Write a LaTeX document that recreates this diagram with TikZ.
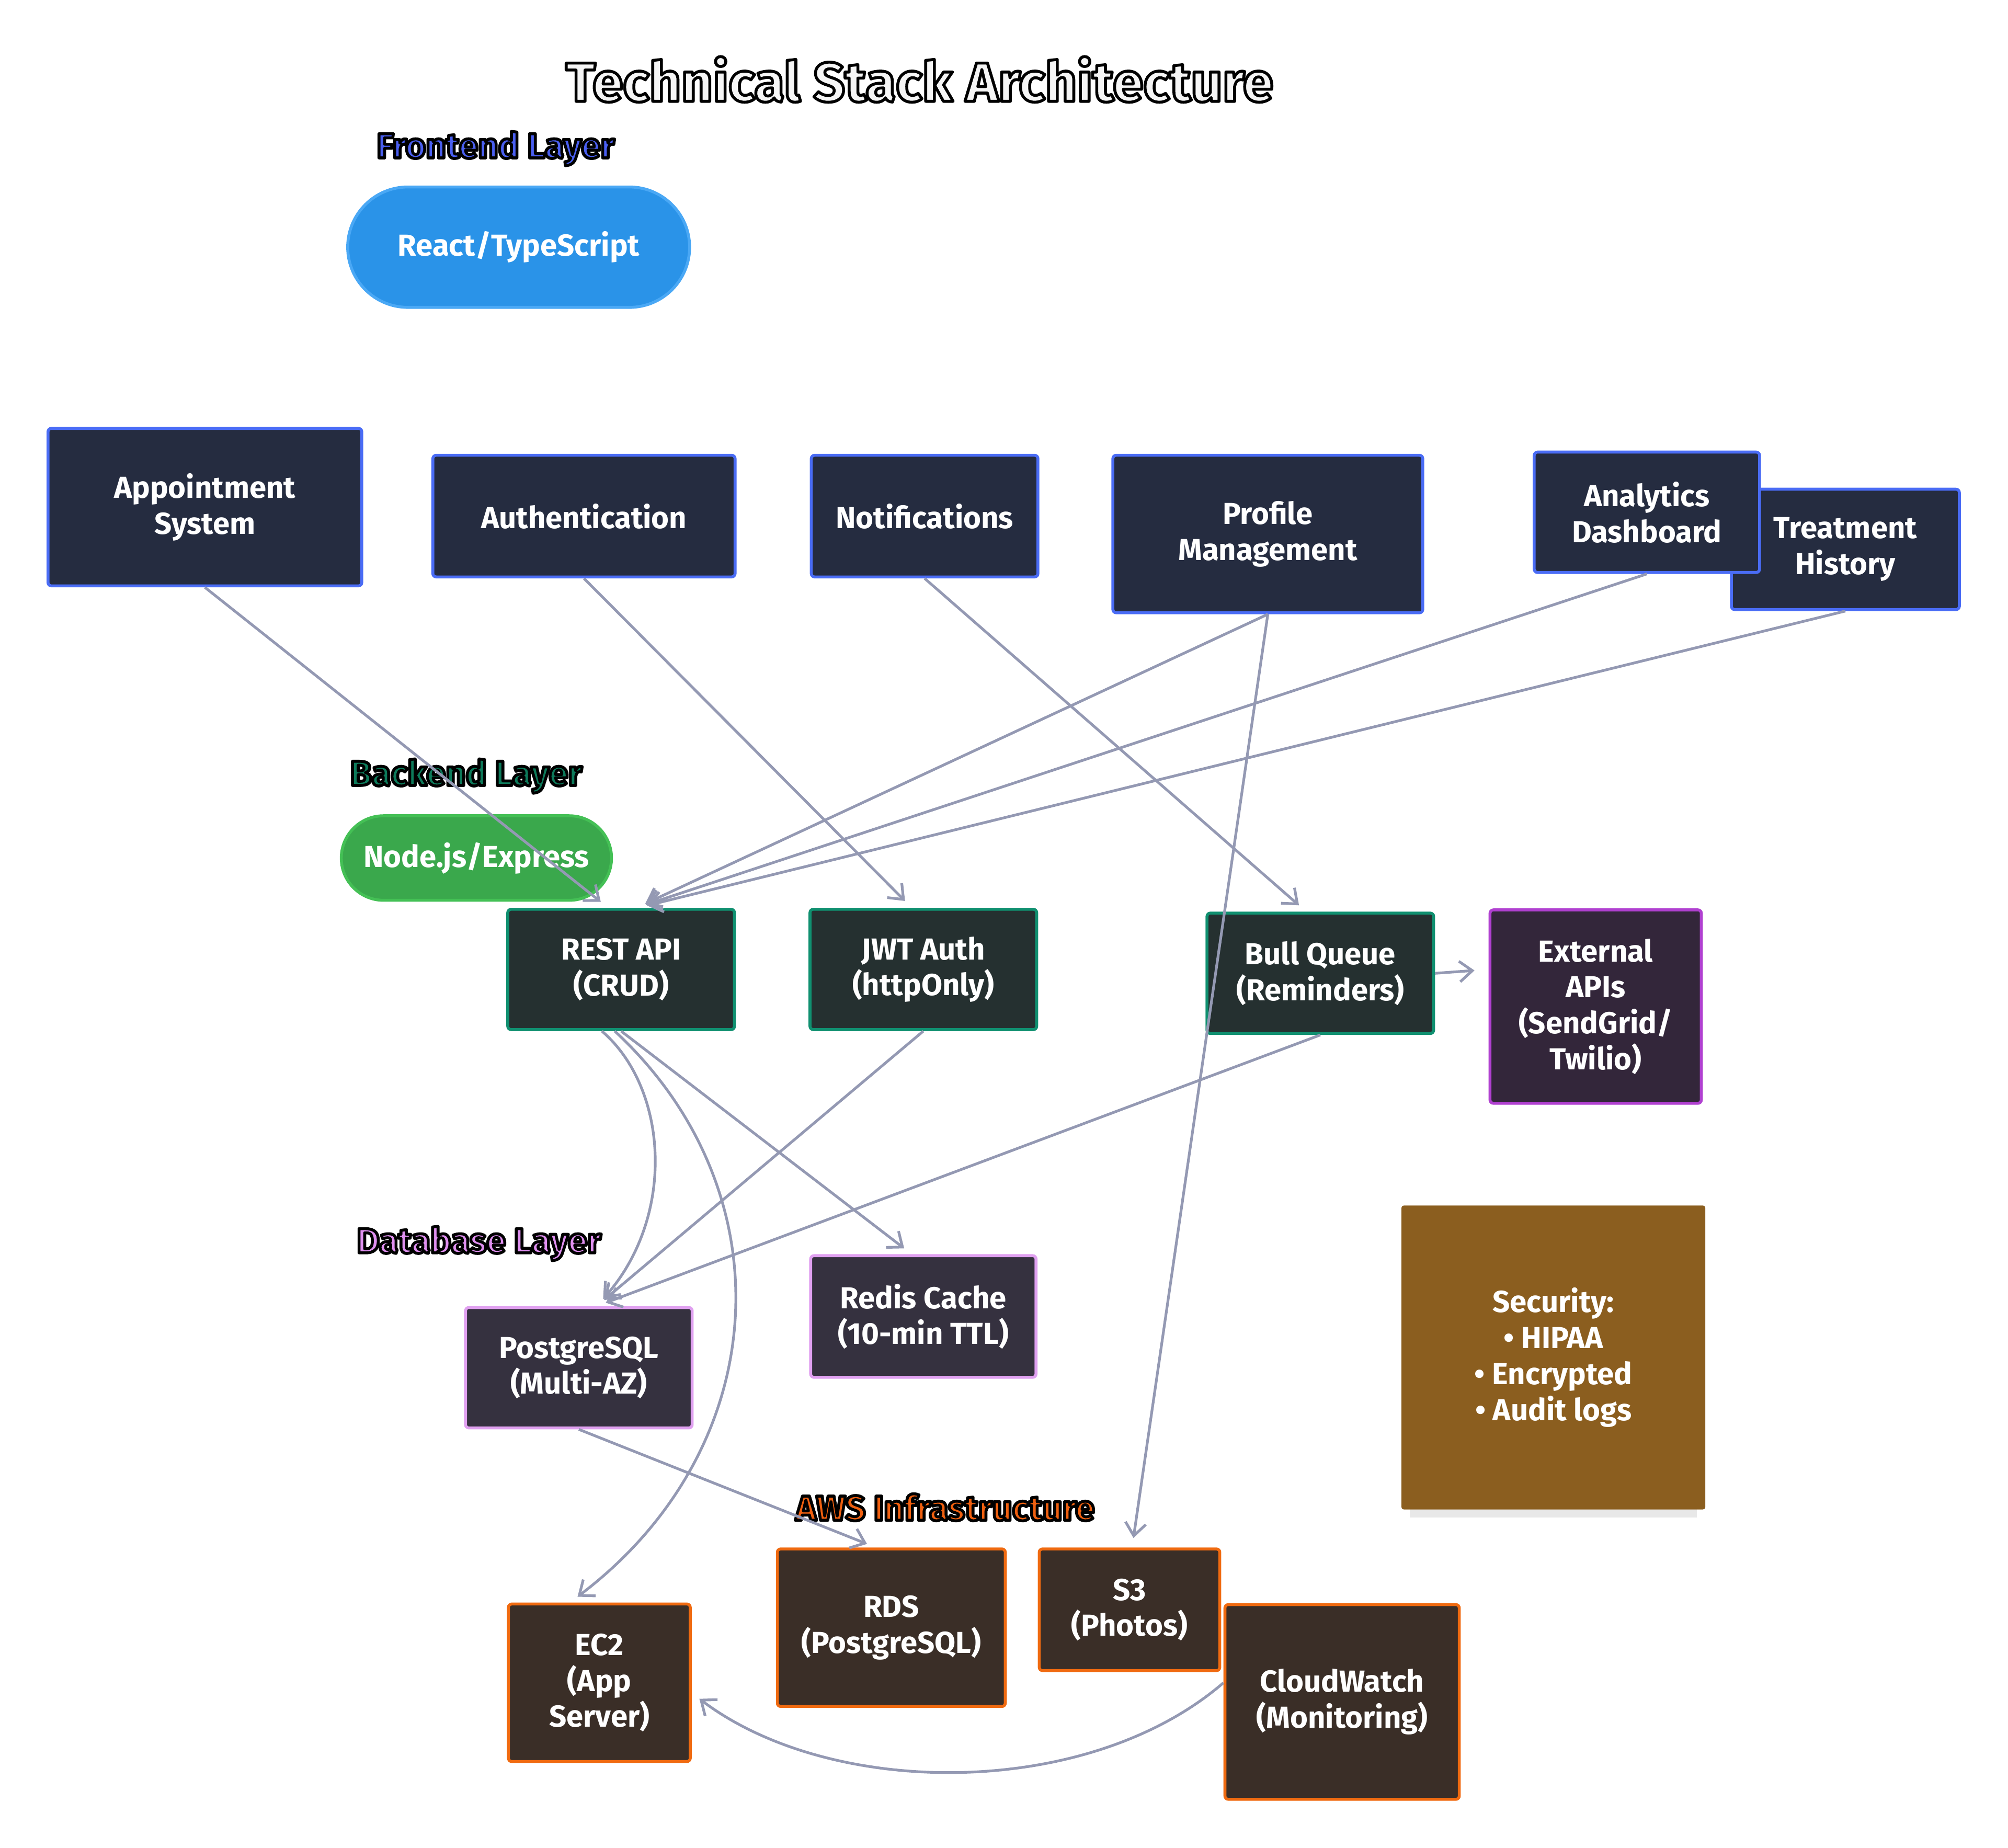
\documentclass[tikz,border=0pt]{standalone}
\usepackage{fontspec}
\setmainfont{Fira Sans}
\usetikzlibrary{arrows.meta}
\newcommand{\outl}[1]{\special{pdf:code q 2 Tr 1.3 w 0 0 0 RG 1 j}#1\special{pdf:code Q}}
\definecolor{arrcol}{HTML}{9499B3}
\definecolor{fefill}{HTML}{252C40}
\definecolor{feline}{HTML}{4A6CF5}
\definecolor{befill}{HTML}{253030}
\definecolor{beline}{HTML}{109070}
\definecolor{dbfill}{HTML}{35313F}
\definecolor{dbline}{HTML}{E0A0F0}
\definecolor{exfill}{HTML}{33263A}
\definecolor{exline}{HTML}{B040D0}
\definecolor{awfill}{HTML}{3A2E27}
\definecolor{awline}{HTML}{F06A10}
\definecolor{secfill}{HTML}{8B5E1F}
\definecolor{reactfill}{HTML}{2A93E8}
\definecolor{reactline}{HTML}{4AA8F5}
\definecolor{expfill}{HTML}{3AA84C}
\definecolor{expline}{HTML}{44C055}
\definecolor{fecol}{HTML}{4A5FF0}
\definecolor{becol}{HTML}{0D7A5A}
\definecolor{dbcol}{HTML}{E090F0}
\definecolor{awcol}{HTML}{F06010}
\tikzset{
  box/.style={draw, line width=1.3pt, rounded corners=1.5pt, inner sep=0pt, align=center,
    text=white, font=\bfseries\fontsize{13.5}{16}\selectfont},
  sz/.style 2 args={minimum width=#1*0.2mm, minimum height=#2*0.2mm},
  febox/.style={box, fill=fefill, draw=feline},
  bebox/.style={box, fill=befill, draw=beline},
  dbbox/.style={box, fill=dbfill, draw=dbline},
  exbox/.style={box, fill=exfill, draw=exline},
  awbox/.style={box, fill=awfill, draw=awline},
  layer/.style={font=\bfseries\fontsize{15.5}{18}\selectfont},
  arr/.style={draw=arrcol, line width=1.2pt, -{Straight Barb[length=2mm,width=3.2mm]}, shorten >=1.5mm}
}
\begin{document}
\begin{tikzpicture}[x=0.2mm, y=-0.2mm]
    \useasboundingbox (0,0) rectangle (1568,1443);
    \node[font=\bfseries\fontsize{24.5}{30}\selectfont, text=gray!8] (title) at (718,62) {\outl{Technical Stack Architecture}};

    \node[layer, text=fecol] (felbl) at (387,116) {\outl{Frontend Layer}};
    \node[box, fill=reactfill, draw=reactline, rounded corners=9.4mm, sz={267}{94}] (react) at (405,193) {React/TypeScript};
    \node[febox, sz={245}{123}] (appt) at (160,396) {Appointment\\System};
    \node[febox, sz={236}{95}] (auth) at (456,403) {Authentication};
    \node[febox, sz={177}{95}] (notif) at (722,403) {Notifications};
    \node[febox, sz={242}{123}] (prof) at (990,417) {Profile\\Management};
    \node[febox, sz={178}{94}] (treat) at (1441,429) {Treatment\\History};
    \node[febox, sz={176}{94}] (anal) at (1286,400) {Analytics\\Dashboard};

    \node[layer, text=becol] (belbl) at (364,606) {\outl{Backend Layer}};
    \node[box, fill=expfill, draw=expline, rounded corners=6.6mm, sz={211}{66}] (express) at (372,670) {Node.js/Express};
    \node[bebox, sz={177}{94}] (rest) at (485,757) {REST API\\(CRUD)};
    \node[bebox, sz={177}{94}] (jwt) at (721,757) {JWT Auth\\(httpOnly)};
    \node[bebox, sz={177}{94}] (bull) at (1031,760) {Bull Queue\\(Reminders)};
    \node[exbox, sz={165}{151}] (ext) at (1246,786) {External\\APIs\\(SendGrid/\\Twilio)};

    \node[layer, text=dbcol] (dblbl) at (374,971) {\outl{Database Layer}};
    \node[dbbox, sz={177}{94}] (pg) at (452,1068) {PostgreSQL\\(Multi-AZ)};
    \node[dbbox, sz={176}{95}] (redis) at (721,1028) {Redis Cache\\(10-min TTL)};

    \fill[gray!18] (1101,1170) rectangle (1325,1185);
    \node[box, fill=secfill, draw=secfill, rounded corners=0.5pt, sz={235}{235}] (sec) at (1213,1060) {Security:\\• HIPAA\\• Encrypted\\• Audit logs};

    \node[layer, text=awcol] (awlbl) at (738,1177) {\outl{AWS Infrastructure}};
    \node[awbox, sz={142}{123}] (ec2) at (468,1314) {EC2\\(App\\Server)};
    \node[awbox, sz={178}{123}] (rds) at (696,1271) {RDS\\(PostgreSQL)};
    \node[awbox, sz={141}{95}] (s3) at (882,1257) {S3\\(Photos)};
    \node[awbox, sz={183}{152}] (cw) at (1048,1329) {CloudWatch\\(Monitoring)};

    \draw[arr] (appt.south) -- ([xshift=-2mm]rest.north);
    \draw[arr] (auth.south) -- ([xshift=-1.8mm]jwt.north);
    \draw[arr] (notif.south) -- ([xshift=-2.2mm]bull.north);
    \draw[arr] (prof.south) -- ([xshift=2.4mm]rest.north);
    \draw[arr] (anal.south) -- ([xshift=2.4mm]rest.north);
    \draw[arr] (treat.south) -- ([xshift=2.6mm]rest.north);
    \draw[arr] (prof.south) -- ([xshift=0.4mm]s3.north);
    \draw[arr, shorten >=2.2mm] (bull.east) -- ([yshift=5.8mm]ext.west);
    \draw[arr] ([xshift=-3mm]rest.south) .. controls (522,850) and (528,950) .. ([xshift=2.8mm]pg.north);
    \draw[arr] (jwt.south) -- ([xshift=2.8mm]pg.north);
    \draw[arr] (bull.south) -- ([xshift=2.8mm]pg.north);
    \draw[arr] (rest.south) -- ([xshift=-1.8mm]redis.north);
    \draw[arr] ([xshift=-1mm]rest.south) .. controls (615,930) and (605,1130) .. ([xshift=-4.6mm]ec2.north);
    \draw[arr] (pg.south) -- ([xshift=-2.4mm]rds.north);
    \draw[arr] ([yshift=3mm]cw.west) .. controls (850,1405) and (650,1405) .. ([yshift=-1.6mm]ec2.east);
\end{tikzpicture}
\end{document}
